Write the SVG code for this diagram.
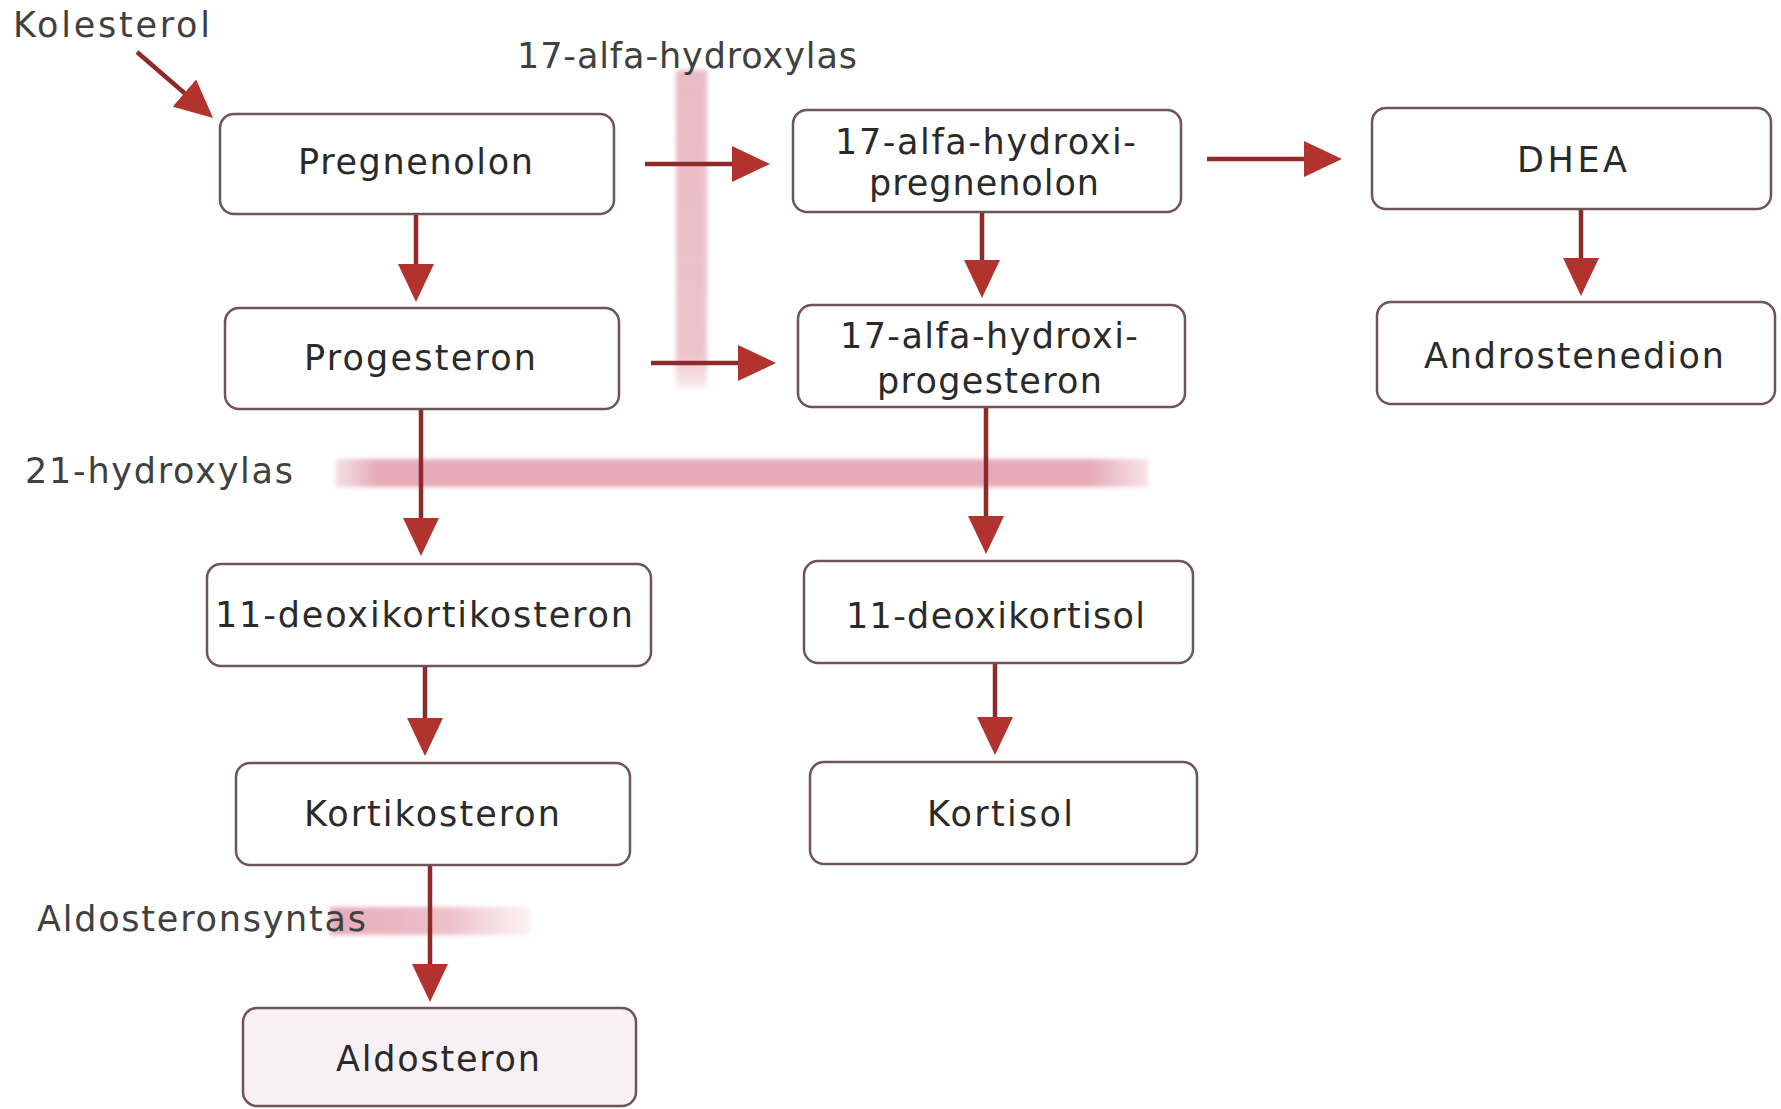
<svg xmlns="http://www.w3.org/2000/svg" width="1781" height="1109" viewBox="0 0 1781 1109">
  <defs>
    <style>
      .box { fill: #ffffff; stroke: #6e5357; stroke-width: 2.5; }
      .box-pink { fill: #f8f1f4; stroke: #6e5357; stroke-width: 2.5; }
      .t { font-family: "DejaVu Sans", "Liberation Sans", Arial, sans-serif; font-size: 35px; fill: #2a2a2a; }
      .lbl { font-family: "DejaVu Sans", "Liberation Sans", Arial, sans-serif; font-size: 35px; fill: #404040; }
      .conn { stroke: #8e2a2a; stroke-width: 4.5; fill: none; marker-end: url(#arrow); }
    </style>
    <marker id="arrow" markerUnits="userSpaceOnUse" viewBox="0 0 38 36" markerWidth="38" markerHeight="36" refX="8" refY="18" orient="auto">
      <path d="M0,0 L38,18 L0,36 z" fill="#b2322e"/>
    </marker>
    <filter id="soft" x="-10%" y="-30%" width="120%" height="160%">
      <feGaussianBlur stdDeviation="2"/>
    </filter>
    <linearGradient id="hband" x1="0" y1="0" x2="1" y2="0">
      <stop offset="0" stop-color="#e6a3b2" stop-opacity="0.35"/>
      <stop offset="0.05" stop-color="#e39cac" stop-opacity="0.85"/>
      <stop offset="0.93" stop-color="#e39cac" stop-opacity="0.85"/>
      <stop offset="1" stop-color="#e6a3b2" stop-opacity="0.3"/>
    </linearGradient>
    <linearGradient id="vband" x1="0" y1="0" x2="0" y2="1">
      <stop offset="0" stop-color="#e7aebb" stop-opacity="0.85"/>
      <stop offset="0.9" stop-color="#e9b5c0" stop-opacity="0.8"/>
      <stop offset="1" stop-color="#eec3cc" stop-opacity="0.3"/>
    </linearGradient>
    <linearGradient id="aband" x1="0" y1="0" x2="1" y2="0">
      <stop offset="0" stop-color="#e39cac" stop-opacity="0.85"/>
      <stop offset="0.6" stop-color="#e7acb8" stop-opacity="0.75"/>
      <stop offset="1" stop-color="#eec3cc" stop-opacity="0.25"/>
    </linearGradient>
  </defs>

  <rect x="0" y="0" width="1781" height="1109" fill="#ffffff"/>

  <g id="enzyme-bands" filter="url(#soft)">
    <rect x="676" y="70" width="31" height="318" fill="url(#vband)"/>
    <rect x="336" y="459" width="812" height="28" fill="url(#hband)"/>
    <rect x="330" y="907" width="200" height="28" fill="url(#aband)"/>
  </g>

  <g id="enzyme-labels">
    <text class="lbl" x="13" y="37" textLength="197" lengthAdjust="spacing">Kolesterol</text>
    <text class="lbl" x="517" y="68" textLength="340" lengthAdjust="spacing">17-alfa-hydroxylas</text>
    <text class="lbl" x="25" y="483" textLength="268" lengthAdjust="spacing">21-hydroxylas</text>
    <text class="lbl" x="37" y="931" textLength="329" lengthAdjust="spacing">Aldosteronsyntas</text>
  </g>

  <g id="connectors">
    <line class="conn" x1="137" y1="52" x2="190.4" y2="98.3"/>
    <line class="conn" x1="645" y1="164" x2="740" y2="164"/>
    <line class="conn" x1="651" y1="363" x2="746" y2="363"/>
    <line class="conn" x1="1207" y1="159" x2="1312" y2="159"/>
    <line class="conn" x1="416" y1="214" x2="416" y2="272"/>
    <line class="conn" x1="982" y1="212" x2="982" y2="268"/>
    <line class="conn" x1="1581" y1="209" x2="1581" y2="266"/>
    <line class="conn" x1="421" y1="409" x2="421" y2="526"/>
    <line class="conn" x1="986" y1="407" x2="986" y2="524"/>
    <line class="conn" x1="425" y1="666" x2="425" y2="726"/>
    <line class="conn" x1="995" y1="663" x2="995" y2="725"/>
    <line class="conn" x1="430" y1="865" x2="430" y2="972"/>
  </g>

  <g id="pregnenolon">
    <rect class="box" x="220" y="114" width="394" height="100" rx="14"/>
    <text class="t" x="298" y="174" textLength="235" lengthAdjust="spacing">Pregnenolon</text>
  </g>
  <g id="hydroxipregnenolon">
    <rect class="box" x="793" y="110" width="388" height="102" rx="14"/>
    <text class="t" x="835" y="154" textLength="301" lengthAdjust="spacing">17-alfa-hydroxi-</text>
    <text class="t" x="869" y="195" textLength="230" lengthAdjust="spacing">pregnenolon</text>
  </g>
  <g id="dhea">
    <rect class="box" x="1372" y="108" width="399" height="101" rx="14"/>
    <text class="t" x="1517" y="172" textLength="110" lengthAdjust="spacing">DHEA</text>
  </g>
  <g id="progesteron">
    <rect class="box" x="225" y="308" width="394" height="101" rx="14"/>
    <text class="t" x="304" y="370" textLength="232" lengthAdjust="spacing">Progesteron</text>
  </g>
  <g id="hydroxiprogesteron">
    <rect class="box" x="798" y="305" width="387" height="102" rx="14"/>
    <text class="t" x="840" y="348" textLength="298" lengthAdjust="spacing">17-alfa-hydroxi-</text>
    <text class="t" x="877" y="393" textLength="225" lengthAdjust="spacing">progesteron</text>
  </g>
  <g id="androstenedion">
    <rect class="box" x="1377" y="302" width="398" height="102" rx="14"/>
    <text class="t" x="1424" y="368" textLength="300" lengthAdjust="spacing">Androstenedion</text>
  </g>
  <g id="deoxikortikosteron">
    <rect class="box" x="207" y="564" width="444" height="102" rx="14"/>
    <text class="t" x="215" y="627" textLength="418" lengthAdjust="spacing">11-deoxikortikosteron</text>
  </g>
  <g id="deoxikortisol">
    <rect class="box" x="804" y="561" width="389" height="102" rx="14"/>
    <text class="t" x="846" y="628" textLength="299" lengthAdjust="spacing">11-deoxikortisol</text>
  </g>
  <g id="kortikosteron">
    <rect class="box" x="236" y="763" width="394" height="102" rx="14"/>
    <text class="t" x="304" y="826" textLength="256" lengthAdjust="spacing">Kortikosteron</text>
  </g>
  <g id="kortisol">
    <rect class="box" x="810" y="762" width="387" height="102" rx="14"/>
    <text class="t" x="927" y="826" textLength="146" lengthAdjust="spacing">Kortisol</text>
  </g>
  <g id="aldosteron">
    <rect class="box-pink" x="243" y="1008" width="393" height="98" rx="14"/>
    <text class="t" x="336" y="1071" textLength="204" lengthAdjust="spacing">Aldosteron</text>
  </g>
</svg>
